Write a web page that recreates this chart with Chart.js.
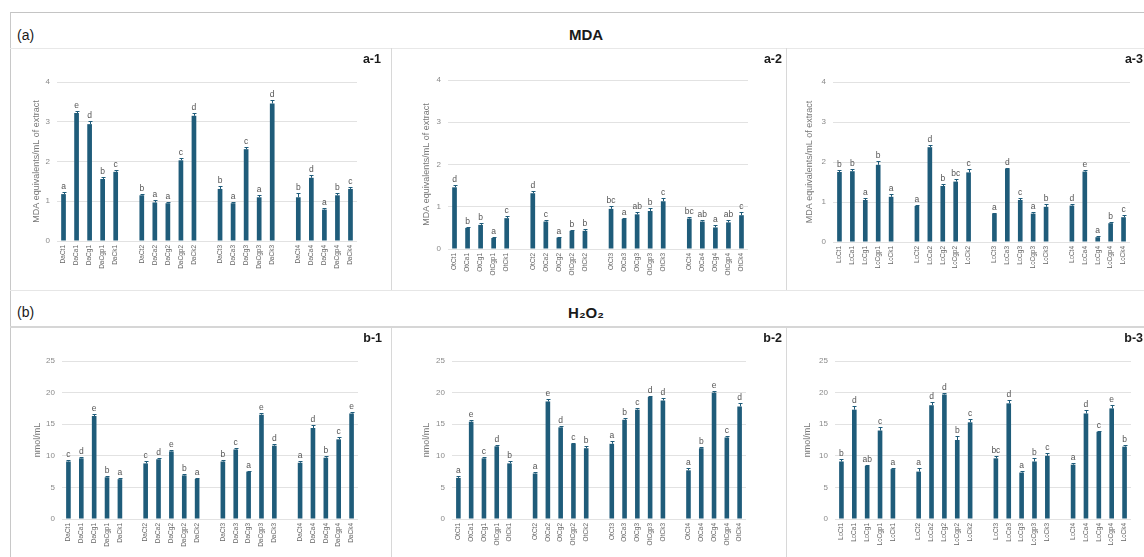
<!DOCTYPE html>
<html><head><meta charset="utf-8">
<script src="https://cdn.jsdelivr.net/npm/chart.js@4.4.0/dist/chart.umd.min.js"></script>
<style>
html,body{margin:0;padding:0;background:#fff;width:1144px;height:557px;overflow:hidden;position:relative;font-family:"Liberation Sans",Arial,sans-serif;}
.ln{position:absolute;background:#d4d4d4;z-index:2;}
.t{position:absolute;color:#1a1a1a;white-space:nowrap;line-height:1;z-index:3;}
.pl{font-weight:bold;font-size:12.5px;}
canvas{position:absolute;z-index:1;}
</style></head><body>
<div class="ln" style="left:10px;top:12px;width:1134px;height:1px;background:#c4c4c4"></div>
<div class="ln" style="left:10px;top:12px;width:1px;height:545px;background:#c8c8c8"></div>
<div class="ln" style="left:10px;top:48px;width:1134px;height:1px;background:#e8e8e8"></div>
<div class="ln" style="left:10px;top:290px;width:1134px;height:1px;background:#e6e6e6"></div>
<div class="ln" style="left:10px;top:326px;width:1134px;height:2px;background:#d6d6d6"></div>
<div class="ln" style="left:391px;top:48px;width:1px;height:242px;background:#d8d8d8"></div>
<div class="ln" style="left:786px;top:48px;width:1px;height:242px;background:#d8d8d8"></div>
<div class="ln" style="left:391px;top:328px;width:1px;height:229px;background:#d8d8d8"></div>
<div class="ln" style="left:786px;top:328px;width:1px;height:229px;background:#d8d8d8"></div>

<div class="t" style="left:17px;top:28px;font-size:14px;">(a)</div>
<div class="t" style="left:586px;top:27px;font-size:15px;font-weight:bold;transform:translateX(-50%);">MDA</div>
<div class="t" style="left:17px;top:305px;font-size:14px;">(b)</div>
<div class="t" style="left:586px;top:305px;font-size:15px;font-weight:bold;transform:translateX(-50%);">H₂O₂</div>

<div class="t pl" style="right:763px;top:53px;">a-1</div>
<div class="t pl" style="right:362px;top:53px;">a-2</div>
<div class="t pl" style="right:1px;top:53px;">a-3</div>
<div class="t pl" style="right:762px;top:332px;">b-1</div>
<div class="t pl" style="right:362px;top:332px;">b-2</div>
<div class="t pl" style="right:1px;top:332px;">b-3</div>

<script>
// ---- categories ----
const daLabels = ['DaCt1','DaCa1','DaCg1','DaCgp1','DaCk1','','DaCt2','DaCa2','DaCg2','DaCgp2','DaCk2','','DaCt3','DaCa3','DaCg3','DaCgp3','DaCk3','','DaCt4','DaCa4','DaCg4','DaCgp4','DaCk4'];
const otLabels = ['OtCt1','OtCa1','OtCg1','OtCgp1','OtCk1','','OtCt2','OtCa2','OtCg2','OtCgp2','OtCk2','','OtCt3','OtCa3','OtCg3','OtCgp3','OtCk3','','OtCt4','OtCa4','OtCg4','OtCgp4','OtCk4'];
const lcLabels = ['LcCt1','LcCa1','LcCg1','LcCgp1','LcCk1','','LcCt2','LcCa2','LcCg2','LcCgp2','LcCk2','','LcCt3','LcCa3','LcCg3','LcCgp3','LcCk3','','LcCt4','LcCa4','LcCg4','LcCgp4','LcCk4'];

// ---- MDA (equivalents/mL of extract) ----
const mdaDa    = [1.18,3.22,2.94,1.56,1.74,null,1.15,0.97,0.95,2.03,3.15,null,1.31,0.95,2.31,1.10,3.46,null,1.10,1.59,0.79,1.15,1.31];
const mdaDaErr = [0.05,0.06,0.08,0.05,0.05,null,0.04,0.05,0.03,0.07,0.06,null,0.07,0.04,0.06,0.06,0.09,null,0.10,0.06,0.03,0.06,0.06];
const mdaDaLet = ['a','e','d','b','c','','b','a','a','c','d','','b','a','c','a','d','','b','d','a','b','c'];

const mdaOt    = [1.46,0.50,0.57,0.26,0.73,null,1.32,0.65,0.27,0.43,0.43,null,0.95,0.71,0.82,0.90,1.13,null,0.72,0.65,0.51,0.63,0.80];
const mdaOtErr = [0.05,0.03,0.05,0.02,0.06,null,0.05,0.03,0.02,0.03,0.04,null,0.06,0.03,0.06,0.06,0.08,null,0.04,0.03,0.05,0.05,0.07];
const mdaOtLet = ['d','b','b','a','c','','d','c','a','b','b','','bc','a','ab','b','c','','bc','ab','a','ab','c'];

const mdaLc    = [1.75,1.77,1.05,1.93,1.13,null,0.90,2.37,1.40,1.51,1.74,null,0.71,1.83,1.05,0.71,0.88,null,0.91,1.76,0.12,0.47,0.62];
const mdaLcErr = [0.05,0.05,0.05,0.09,0.06,null,0.02,0.06,0.05,0.06,0.08,null,0.02,0.03,0.05,0.05,0.06,null,0.05,0.05,0.02,0.04,0.05];
const mdaLcLet = ['b','b','a','b','a','','a','d','b','bc','c','','a','d','c','a','b','','d','e','a','b','c'];

// ---- H2O2 (nmol/mL) ----
const h2Da    = [9.1,9.6,16.3,6.6,6.3,null,8.8,9.45,10.7,6.9,6.35,null,9.1,11.0,7.5,16.5,11.6,null,8.9,14.4,9.7,12.6,16.7];
const h2DaErr = [0.2,0.2,0.3,0.15,0.15,null,0.4,0.2,0.25,0.2,0.15,null,0.2,0.2,0.15,0.2,0.25,null,0.2,0.5,0.2,0.35,0.3];
const h2DaLet = ['c','d','e','b','a','','c','d','e','b','a','','b','c','a','e','d','','a','d','b','c','e'];

const h2Ot    = [6.5,15.4,9.6,11.5,8.8,null,7.2,18.6,14.5,11.9,11.2,null,11.9,15.7,17.3,19.3,18.75,null,7.7,11.2,20.0,12.9,17.8];
const h2OtErr = [0.3,0.3,0.15,0.2,0.3,null,0.3,0.4,0.2,0.2,0.4,null,0.4,0.3,0.2,0.2,0.4,null,0.4,0.2,0.2,0.2,0.5];
const h2OtLet = ['a','e','c','d','b','','a','e','d','c','b','','a','b','c','d','d','','a','b','e','c','d'];

const h2Lc    = [9.1,17.3,8.4,14.0,7.9,null,7.5,18.0,19.7,12.5,15.3,null,9.6,18.3,7.35,9.1,10.0,null,8.6,16.7,13.8,17.5,11.45];
const h2LcErr = [0.4,0.6,0.2,0.6,0.2,null,0.5,0.5,0.2,0.6,0.5,null,0.3,0.6,0.2,0.5,0.4,null,0.3,0.5,0.2,0.5,0.3];
const h2LcLet = ['b','d','ab','c','a','','a','d','d','b','c','','bc','d','a','b','c','','a','d','c','e','b'];

const BAR = '#1f5c7a';
const FONT = '"Liberation Sans", Arial, sans-serif';

const errPlugin = {
  id: 'errLetters',
  afterDatasetsDraw(chart) {
    const ctx = chart.ctx, ds = chart.data.datasets[0], meta = chart.getDatasetMeta(0), y = chart.scales.y;
    ctx.save();
    meta.data.forEach((bar, i) => {
      const v = ds.data[i];
      if (v == null) return;
      const e = ds.errs[i] || 0;
      const x = Math.round(bar.x) + 0.5;
      const yv = y.getPixelForValue(v);
      const yt = Math.round(y.getPixelForValue(v + e)) + 0.5;
      ctx.strokeStyle = BAR; ctx.lineWidth = 1;
      ctx.beginPath();
      ctx.moveTo(x, yv); ctx.lineTo(x, yt);
      ctx.moveTo(x - 2, yt); ctx.lineTo(x + 2, yt);
      ctx.stroke();
      ctx.fillStyle = '#555';
      ctx.font = '8.5px ' + FONT;
      ctx.textAlign = 'center'; ctx.textBaseline = 'bottom';
      ctx.fillText(ds.letters[i], bar.x, yt - 2);
    });
    ctx.restore();
  }
};

function makePanel(o) {
  const c = document.createElement('canvas');
  c.width = o.rect.w; c.height = o.rect.h;
  c.style.left = o.rect.x + 'px'; c.style.top = o.rect.y + 'px';
  c.style.width = o.rect.w + 'px'; c.style.height = o.rect.h + 'px';
  document.body.appendChild(c);
  const yW = o.area.l - o.rect.x;
  const xH = o.rect.y + o.rect.h - o.area.b;
  const titlePad = (o.titleX - o.rect.x) - 9 * 1.2 / 2;
  new Chart(c, {
    type: 'bar',
    data: { labels: o.labels, datasets: [{ data: o.values, errs: o.errs, letters: o.letters,
      backgroundColor: BAR, barPercentage: 0.36, categoryPercentage: 1 }] },
    options: {
      responsive: false, animation: false, devicePixelRatio: 1,
      layout: { padding: { left: 0, top: o.area.t - o.rect.y, right: o.rect.x + o.rect.w - o.area.r, bottom: 0 } },
      plugins: { legend: { display: false }, tooltip: { enabled: false } },
      scales: {
        x: {
          grid: { display: false, drawTicks: false }, border: { display: false },
          ticks: { autoSkip: false, minRotation: 90, maxRotation: 90, padding: 4, color: '#666', font: { size: 6.5, family: FONT } },
          afterFit: s => { s.height = xH; }
        },
        y: {
          min: 0, max: o.max,
          ticks: { stepSize: o.step, padding: 7, color: '#8a8a8a', font: { size: 8, family: FONT } },
          grid: { color: '#e2e2e2', drawTicks: false }, border: { display: false },
          title: { display: true, text: o.title, color: '#777', font: { size: 9, family: FONT }, padding: { top: titlePad, bottom: 0 } },
          afterFit: s => { s.width = yW; }
        }
      }
    },
    plugins: [errPlugin]
  });
}

const mdaTitle = 'MDA equivalents/mL of extract';
const h2Title = 'nmol/mL';

makePanel({ rect:{x:11,y:49,w:380,h:241}, area:{l:57,r:357,t:82,b:241}, titleX:37,
  labels:daLabels, values:mdaDa, errs:mdaDaErr, letters:mdaDaLet, max:4, step:1, title:mdaTitle });
makePanel({ rect:{x:392,y:49,w:394,h:241}, area:{l:448,r:748,t:80,b:249}, titleX:427,
  labels:otLabels, values:mdaOt, errs:mdaOtErr, letters:mdaOtLet, max:4, step:1, title:mdaTitle });
makePanel({ rect:{x:787,y:49,w:357,h:241}, area:{l:833,r:1130,t:82,b:242}, titleX:810,
  labels:lcLabels, values:mdaLc, errs:mdaLcErr, letters:mdaLcLet, max:4, step:1, title:mdaTitle });

makePanel({ rect:{x:11,y:328,w:380,h:229}, area:{l:62,r:358,t:361,b:519}, titleX:38,
  labels:daLabels, values:h2Da, errs:h2DaErr, letters:h2DaLet, max:25, step:5, title:h2Title });
makePanel({ rect:{x:392,y:328,w:394,h:229}, area:{l:452,r:746,t:361,b:519}, titleX:427,
  labels:otLabels, values:h2Ot, errs:h2OtErr, letters:h2OtLet, max:25, step:5, title:h2Title });
makePanel({ rect:{x:787,y:328,w:357,h:229}, area:{l:835,r:1131,t:361,b:519}, titleX:808,
  labels:lcLabels, values:h2Lc, errs:h2LcErr, letters:h2LcLet, max:25, step:5, title:h2Title });
</script>
</body></html>
